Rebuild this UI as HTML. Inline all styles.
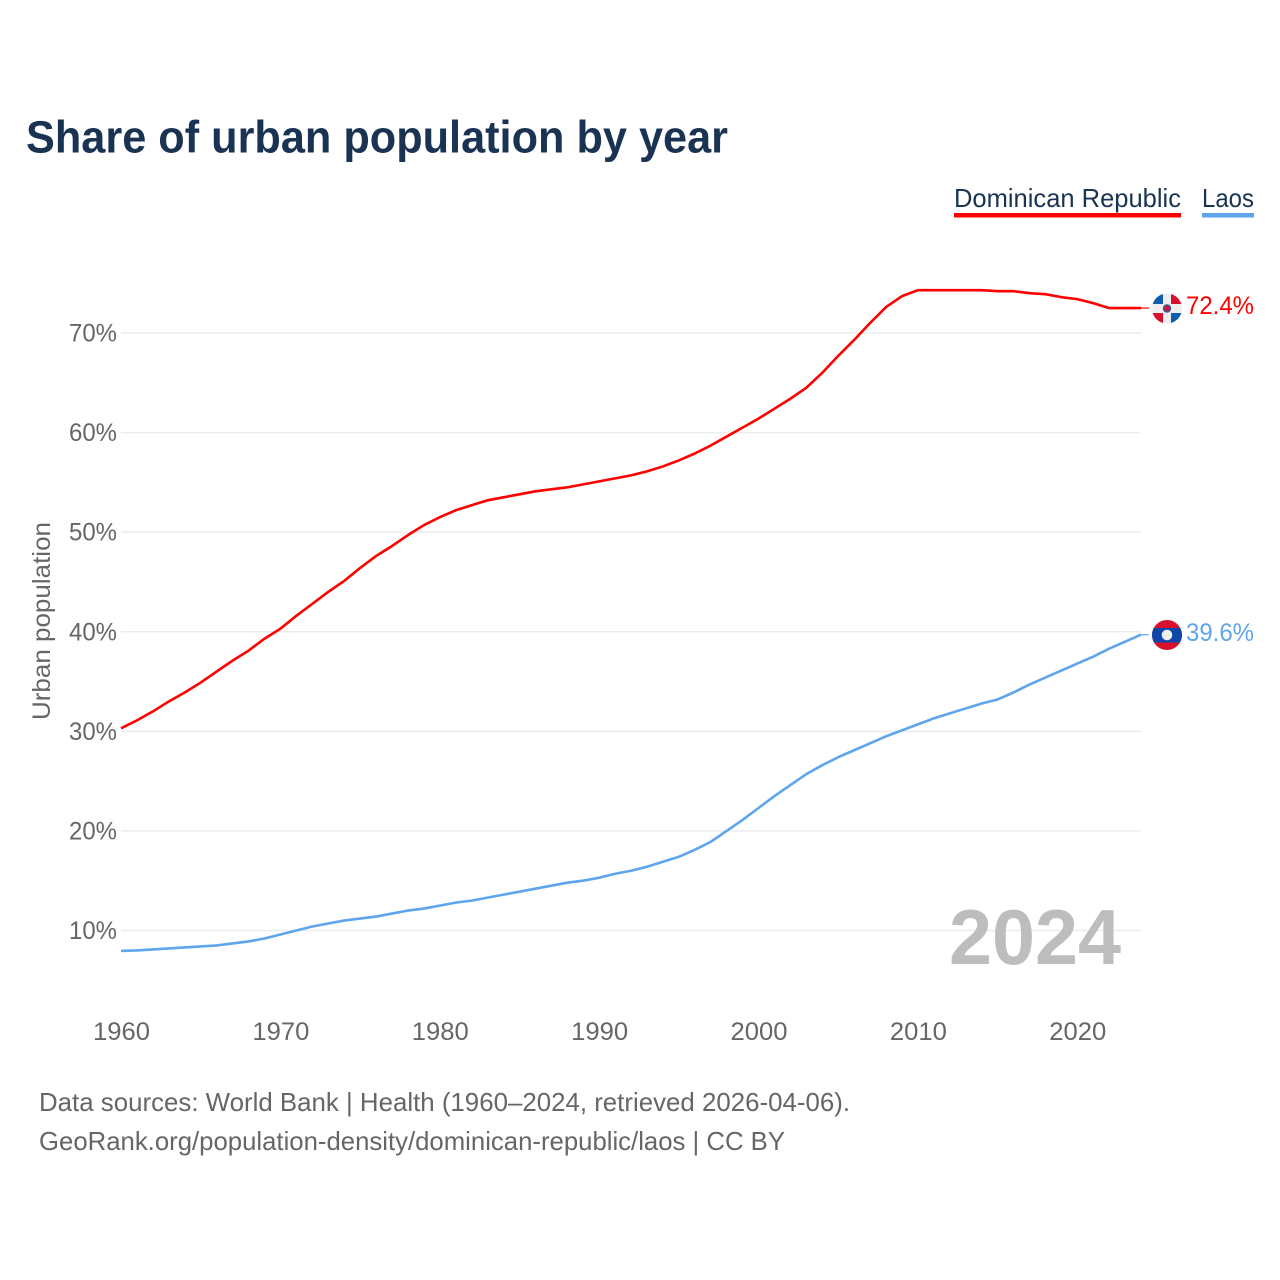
<!DOCTYPE html>
<html lang="en">
<head>
<meta charset="utf-8">
<title>Share of urban population by year</title>
<style>
html,body{margin:0;padding:0;background:#fff;width:1280px;height:1280px;overflow:hidden}
svg{display:block}
text{font-family:"Liberation Sans",sans-serif}
</style>
</head>
<body>
<svg id="chart" width="1280" height="1280" viewBox="0 0 1280 1280" xmlns="http://www.w3.org/2000/svg">
  <defs>
    <clipPath id="clip-dr"><circle cx="1167" cy="308.5" r="15"/></clipPath>
    <clipPath id="clip-la"><circle cx="1167" cy="635" r="15"/></clipPath>
  </defs>
  <text x="26" y="152.5" font-size="45" font-weight="700" fill="#1a3353" textLength="702" lengthAdjust="spacingAndGlyphs">Share of urban population by year</text>

  <g>
    <text x="954" y="207" font-size="26" fill="#1a3353" textLength="227" lengthAdjust="spacingAndGlyphs">Dominican Republic</text>
    <rect x="954" y="213" width="227" height="4.5" fill="#ff0000"/>
  </g>
  <g>
    <text x="1202" y="207" font-size="26" fill="#1a3353" textLength="52" lengthAdjust="spacingAndGlyphs">Laos</text>
    <rect x="1202" y="213" width="52" height="4.5" fill="#5ea5ee"/>
  </g>

  <text transform="translate(50,720) rotate(-90)" font-size="25" fill="#666" textLength="198" lengthAdjust="spacingAndGlyphs">Urban population</text>

  <g id="grid"></g>
  <g id="y-ticks"></g>
  <g id="x-ticks"></g>
  <g id="series"></g>

  <text x="949" y="964" font-size="78" font-weight="700" fill="#bdbdbd" textLength="172" lengthAdjust="spacingAndGlyphs">2024</text>

  <g clip-path="url(#clip-dr)">
    <rect x="1152" y="293.5" width="30" height="30" fill="#eeeeee"/>
    <rect x="1152" y="293.5" width="11" height="10.5" fill="#0d5eaf"/>
    <rect x="1171" y="293.5" width="11" height="10.5" fill="#d8102e"/>
    <rect x="1152" y="313" width="11" height="10.5" fill="#d8102e"/>
    <rect x="1171" y="313" width="11" height="10.5" fill="#0d5eaf"/>
    <circle cx="1167" cy="308.5" r="4.2" fill="#3a5a90"/>
    <circle cx="1167" cy="308.5" r="2.6" fill="#d8102e"/>
  </g>
  <g clip-path="url(#clip-la)">
    <rect x="1152" y="620" width="30" height="30" fill="#d8102e"/>
    <rect x="1152" y="628" width="30" height="14.5" fill="#0d47a8"/>
    <circle cx="1167" cy="635" r="5.3" fill="#eeeeee"/>
  </g>

  <text id="value-dr" x="1186" y="314" font-size="25" fill="#ff0000" textLength="68" lengthAdjust="spacingAndGlyphs">72.4%</text>
  <text id="value-la" x="1186" y="641" font-size="25" fill="#5ea5ee" textLength="68" lengthAdjust="spacingAndGlyphs">39.6%</text>

  <text x="39" y="1111" font-size="26" fill="#666" textLength="811" lengthAdjust="spacingAndGlyphs">Data sources: World Bank | Health (1960–2024, retrieved 2026-04-06).</text>
  <text x="39" y="1150" font-size="26" fill="#666" textLength="746" lengthAdjust="spacingAndGlyphs">GeoRank.org/population-density/dominican-republic/laos | CC BY</text>
</svg>
<script>
const startYear = 1960;
const endYear = 2024;
const yTickValues = [10, 20, 30, 40, 50, 60, 70];
const xTickValues = [1960, 1970, 1980, 1990, 2000, 2010, 2020];
const dominicanValues = [30.3,31.1,32.0,33.0,33.9,34.9,36.0,37.1,38.1,39.3,40.3,41.6,42.8,44.0,45.1,46.4,47.6,48.6,49.7,50.7,51.5,52.2,52.7,53.2,53.5,53.8,54.1,54.3,54.5,54.8,55.1,55.4,55.7,56.1,56.6,57.2,57.9,58.7,59.6,60.5,61.4,62.4,63.4,64.5,66.0,67.7,69.3,71.0,72.6,73.7,74.3,74.3,74.3,74.3,74.3,74.2,74.2,74.0,73.9,73.6,73.4,73.0,72.5,72.5,72.5];
const laosValues = [7.95,8.0,8.1,8.2,8.3,8.4,8.5,8.7,8.9,9.2,9.6,10.0,10.4,10.7,11.0,11.2,11.4,11.7,12.0,12.2,12.5,12.8,13.0,13.3,13.6,13.9,14.2,14.5,14.8,15.0,15.3,15.7,16.0,16.4,16.9,17.4,18.1,18.9,20.0,21.1,22.3,23.5,24.6,25.7,26.6,27.4,28.1,28.8,29.5,30.1,30.7,31.3,31.8,32.3,32.8,33.2,33.9,34.7,35.4,36.1,36.8,37.5,38.3,39.0,39.7];

const NS = 'http://www.w3.org/2000/svg';
function xScale(year) { return 121 + (year - 1960) * (1141 - 121) / 64; }
function yScale(v) { return 930.5 - (v - 10) * (930.5 - 333) / 60; }

const grid = document.getElementById('grid');
const yTicks = document.getElementById('y-ticks');
const xTicks = document.getElementById('x-ticks');
const seriesGroup = document.getElementById('series');

yTickValues.forEach(function (v) {
  const line = document.createElementNS(NS, 'line');
  
  
  line.setAttribute('x1', xScale(startYear));
  line.setAttribute('x2', xScale(endYear));
  line.setAttribute('y1', yScale(v));
  line.setAttribute('y2', yScale(v));
  line.setAttribute('stroke', '#ececec');
  line.setAttribute('stroke-width', '1.5');
  grid.appendChild(line);

  const label = document.createElementNS(NS, 'text');
  
  
  label.setAttribute('x', 69);
  label.setAttribute('y', yScale(v) + 8.5);
  label.setAttribute('font-size', '25');
  label.setAttribute('fill', '#666');
  label.setAttribute('textLength', '48');
  label.setAttribute('lengthAdjust', 'spacingAndGlyphs');
  label.textContent = v + '%';
  yTicks.appendChild(label);
});

xTickValues.forEach(function (year) {
  const label = document.createElementNS(NS, 'text');
  
  
  label.setAttribute('x', xScale(year) - 28);
  label.setAttribute('y', 1040);
  label.setAttribute('font-size', '25');
  label.setAttribute('fill', '#666');
  label.setAttribute('textLength', '57');
  label.setAttribute('lengthAdjust', 'spacingAndGlyphs');
  label.textContent = String(year);
  xTicks.appendChild(label);
});

function drawSeries(values, color, name) {
  const d = values.map(function (v, i) {
    return (i ? 'L' : 'M') + xScale(startYear + i).toFixed(2) + ' ' + yScale(v).toFixed(2);
  }).join(' ');
  const path = document.createElementNS(NS, 'path');
  
  
  path.setAttribute('d', d);
  path.setAttribute('fill', 'none');
  path.setAttribute('stroke', color);
  path.setAttribute('stroke-width', '2.6');
  path.setAttribute('stroke-linejoin', 'round');
  seriesGroup.appendChild(path);

  const lastY = yScale(values[values.length - 1]);
  const leader = document.createElementNS(NS, 'line');
  
  
  leader.setAttribute('x1', xScale(endYear));
  leader.setAttribute('x2', xScale(endYear) + 8);
  leader.setAttribute('y1', lastY);
  leader.setAttribute('y2', lastY);
  leader.setAttribute('stroke', color);
  leader.setAttribute('stroke-width', '1.2');
  seriesGroup.appendChild(leader);
}

drawSeries(dominicanValues, '#ff0000', 'dominican-republic');
drawSeries(laosValues, '#5ea5ee', 'laos');
</script>
</body>
</html>
